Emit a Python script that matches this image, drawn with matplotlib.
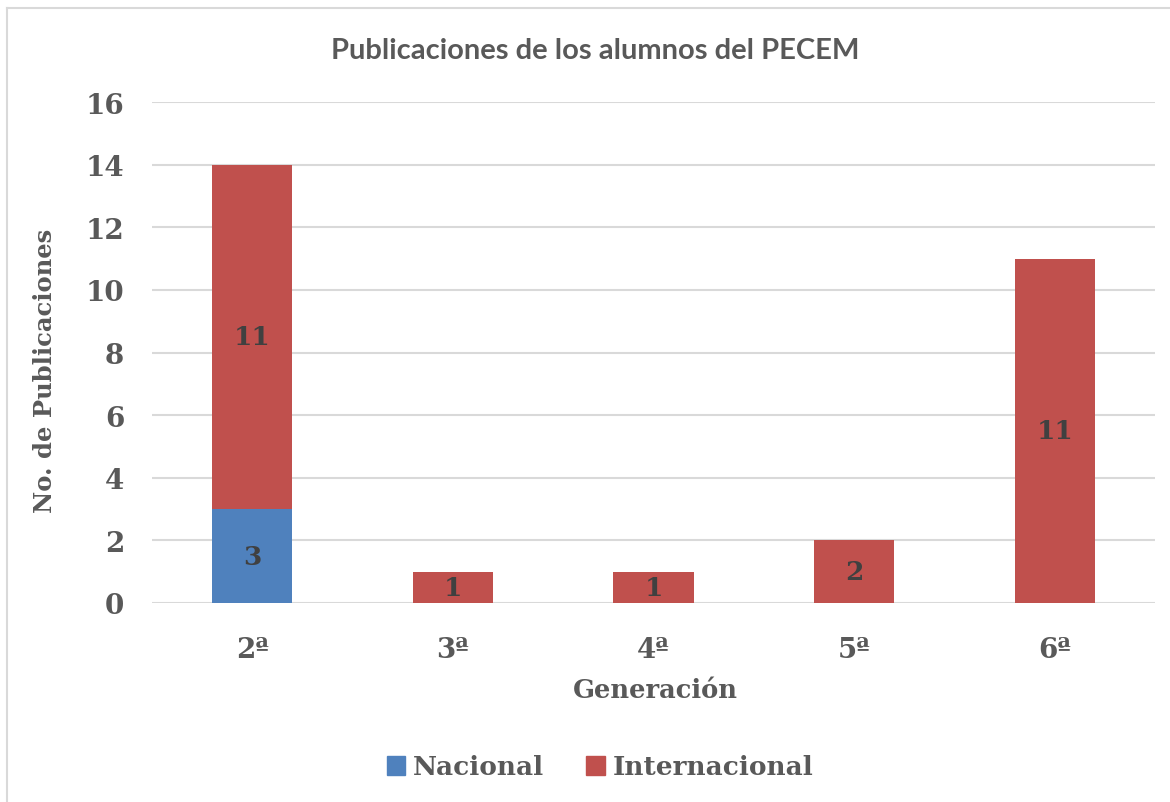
import matplotlib
matplotlib.use("Agg")
import matplotlib.pyplot as plt
from matplotlib.patches import Patch
from matplotlib.lines import Line2D

categories = ["2ª", "3ª", "4ª", "5ª", "6ª"]
nacional = [3, 0, 0, 0, 0]
internacional = [11, 1, 1, 2, 11]
yticks = [0, 2, 4, 6, 8, 10, 12, 14, 16]

BLUE = "#4F81BD"
RED = "#C0504D"
TXT = "#595959"
LBL = "#404040"
SERIF = ["DejaVu Serif"]

fig = plt.figure(figsize=(11.7, 8.03), dpi=100)
ax = fig.add_axes([152/1170, 1-604/803, 1003/1170, 501/803])

x = list(range(len(categories)))
w = 0.4
ax.bar(x, nacional, width=w, color=BLUE, zorder=3)
ax.bar(x, internacional, width=w, bottom=nacional, color=RED, zorder=3)

for i in x:
    if nacional[i] > 0:
        ax.text(i, nacional[i]/2, str(nacional[i]), ha="center", va="center",
                fontsize=19, fontweight="bold", color=LBL, family=SERIF, zorder=4)
    if internacional[i] > 0:
        ax.text(i, nacional[i] + internacional[i]/2, str(internacional[i]), ha="center",
                va="center", fontsize=19, fontweight="bold", color=LBL, family=SERIF, zorder=4)

ax.set_xlim(-0.5, len(categories)-0.5)
ax.set_ylim(0, 16)
ax.set_yticks(yticks)
ax.set_xticks(x)
ax.set_xticklabels(categories)
ax.yaxis.grid(True, color="#D9D9D9", linewidth=1.5, zorder=0)
ax.set_axisbelow(True)
for s in ax.spines.values():
    s.set_visible(False)
ax.tick_params(axis="both", length=0, labelsize=20, labelcolor=TXT)
ax.tick_params(axis="y", pad=20)
ax.tick_params(axis="x", pad=24)
for lab in ax.get_xticklabels() + ax.get_yticklabels():
    lab.set_fontweight("bold")
    lab.set_family(SERIF)

ax.set_ylabel("No. de Publicaciones", fontsize=17.5, fontweight="bold", color=TXT,
              family=SERIF)
ax.yaxis.set_label_coords(-95/1003, 0.466)
ax.set_xlabel("Generación", fontsize=18.5, fontweight="bold", color=TXT,
              family=SERIF)
ax.xaxis.set_label_coords(0.5015, -87/501)
ax.xaxis.label.set_va("center")

fig.text(595/1170, 1-51/803, "Publicaciones de los alumnos del PECEM", ha="center",
         va="center", fontsize=21, fontweight="bold", color=TXT, family=["Lato"])

handles = [Patch(color=BLUE), Patch(color=RED)]
leg = fig.legend(handles, ["Nacional", "Internacional"], loc="center",
                 bbox_to_anchor=(600/1170, 1-768/803), ncol=2, frameon=False,
                 prop={"family": SERIF, "weight": "bold", "size": 19},
                 handlelength=0.7, handleheight=0.7, handletextpad=0.3, columnspacing=1.6)
for t in leg.get_texts():
    t.set_color(TXT)

# chart border (left and top visible)
fig.add_artist(Line2D([7/1170, 7/1170], [0, 1-9/803], color="#D9D9D9", linewidth=1.5))
fig.add_artist(Line2D([7/1170, 1], [1-9/803, 1-9/803], color="#D9D9D9", linewidth=1.5))

fig.savefig("out.png", dpi=100)
